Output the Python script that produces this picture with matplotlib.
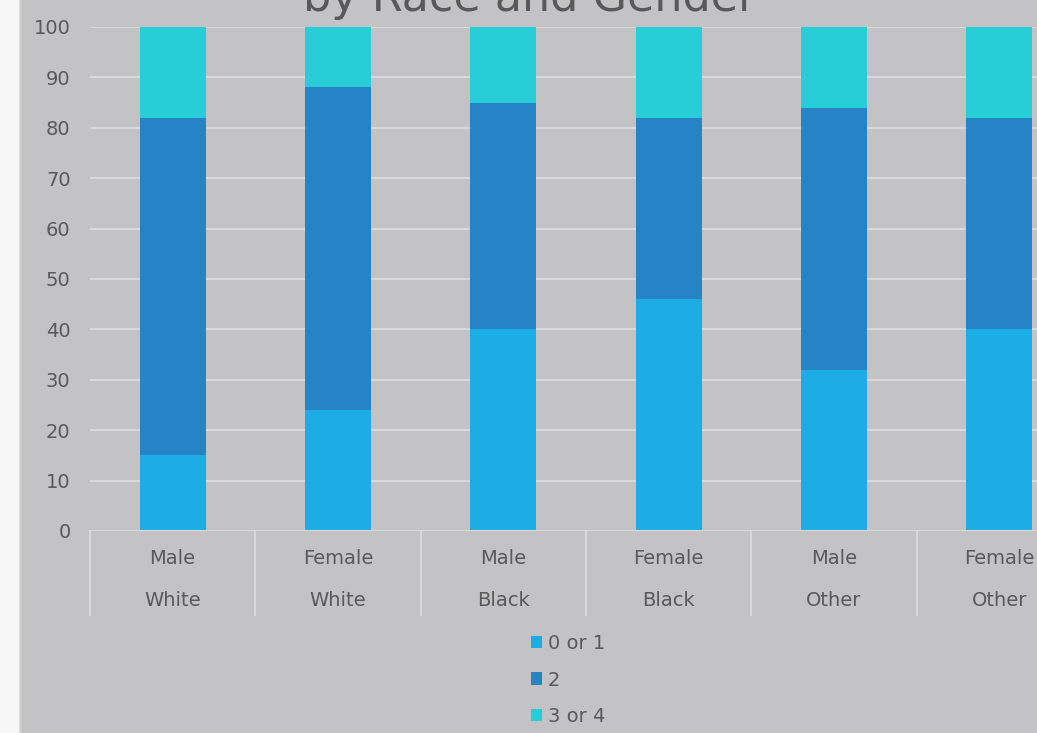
import matplotlib
matplotlib.use('Agg')
import matplotlib.pyplot as plt
import matplotlib.transforms as mtransforms
from matplotlib.patches import Patch, Rectangle

# data (percent of group)
genders = ['Male', 'Female', 'Male', 'Female', 'Male', 'Female']
races = ['White', 'White', 'Black', 'Black', 'Other', 'Other']
low = [15, 24, 40, 46, 32, 40]        # 0 or 1
mid = [67, 64, 45, 36, 52, 42]        # 2
high = [18, 12, 15, 18, 16, 18]       # 3 or 4
series_names = ['0 or 1', '2', '3 or 4']
colors = ['#1CADE4', '#2683C6', '#27CED7']

bg = '#c3c3c5'
grid_col = '#d9d9d9'
txt = '#595959'

W, H = 1037, 733
fig = plt.figure(figsize=(W / 100, H / 100), dpi=100, facecolor=bg)

# light strip with shadow on the left edge
fig.patches.append(Rectangle((0, 0), 19 / W, 1, transform=fig.transFigure,
                             facecolor='#f7f7f7', edgecolor='none', zorder=0))
for i, c in enumerate(['#dcdcdc', '#cfcfd0', '#c8c8c9']):
    fig.patches.append(Rectangle(((19 + i) / W, 0), 1 / W, 1, transform=fig.transFigure,
                                 facecolor=c, edgecolor='none', zorder=0))

# axes runs past the right edge, like the cropped original
ax_h = 504
ax = fig.add_axes([90 / W, (H - 531) / H, 992 / W, ax_h / H])
ax.set_facecolor('none')

x = list(range(len(genders)))
bottom2 = [a + b for a, b in zip(low, mid)]
ax.bar(x, low, width=0.4, color=colors[0], zorder=3)
ax.bar(x, mid, width=0.4, bottom=low, color=colors[1], zorder=3)
ax.bar(x, high, width=0.4, bottom=bottom2, color=colors[2], zorder=3)

ax.set_xlim(-0.5, 5.5)
ax.set_ylim(0, 100)
ax.set_yticks(range(0, 101, 10))
ax.yaxis.grid(True, color=grid_col, linewidth=1.5, zorder=0)
ax.tick_params(axis='y', length=0, pad=14, labelsize=14, labelcolor=txt)
ax.set_xticks([])
for s in ax.spines.values():
    s.set_visible(False)
ax.axhline(0, color=grid_col, linewidth=1.5, zorder=4)

# two-level category axis
trans = mtransforms.blended_transform_factory(ax.transData, ax.transAxes)
for b in [i - 0.5 for i in range(len(genders) + 1)]:
    ax.plot([b, b], [0, -84 / ax_h], transform=trans, color=grid_col,
            linewidth=1.5, clip_on=False)
for i in x:
    ax.text(i, -28 / ax_h, genders[i], transform=trans, ha='center', va='center',
            fontsize=14, color=txt)
    ax.text(i, -70 / ax_h, races[i], transform=trans, ha='center', va='center',
            fontsize=14, color=txt)

# title, cut off at the top
fig.text(530 / W, 1 - 11 / H, 'by Race and Gender', ha='center', va='baseline',
         fontsize=32, color=txt)

handles = [Patch(facecolor=c, edgecolor='none') for c in colors]
fig.legend(handles, series_names, loc='center', bbox_to_anchor=(568 / W, 1 - 680 / H),
           frameon=False, fontsize=14, labelcolor=txt, handlelength=0.6,
           handleheight=0.6, handletextpad=0.3, labelspacing=0.9)

fig.savefig('out.png', dpi=100, facecolor=bg)
